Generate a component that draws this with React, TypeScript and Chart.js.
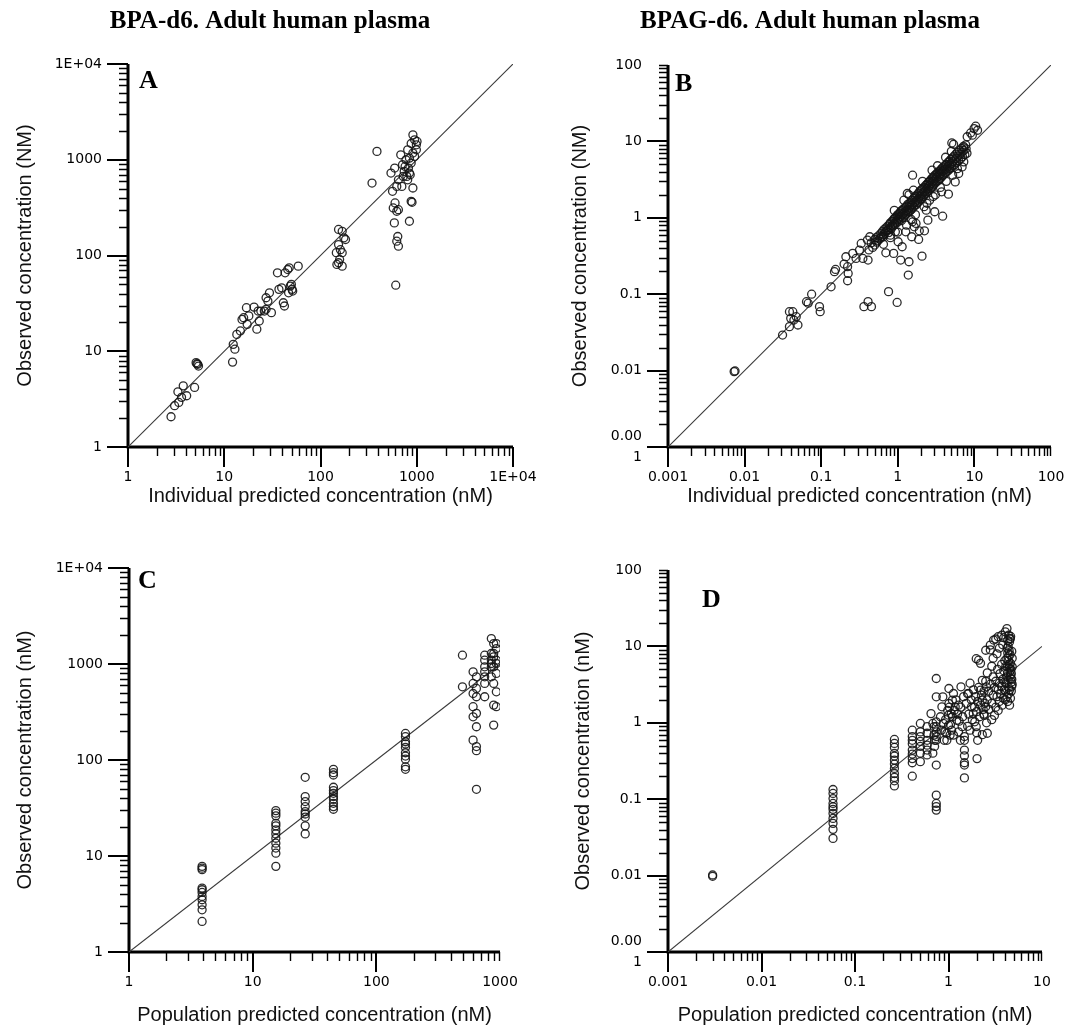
import React, { useEffect, useRef } from 'react';
import { Chart, registerables } from 'chart.js';

Chart.register(...registerables);

type Pt = [number, number];

// ---------- Panel A: BPA-d6, individual predicted vs observed ----------
const A_POINTS: Pt[] = [
  [2.8, 2.07], [3.05, 2.7], [3.37, 2.92], [3.3, 3.77], [3.75, 4.35], [4.07, 3.43], [3.6, 3.3], [4.92, 4.19],
  [5.1, 7.6], [5.3, 7.3], [5.4, 7.0], [5.2, 7.4],
  [12.2, 7.7], [12.4, 11.8], [12.9, 10.5], [13.5, 15], [14.7, 16.3], [15.3, 21.5], [15.9, 22.4], [17, 28.5],
  [17.3, 19.1], [18, 23.4], [20.4, 28.9], [21.8, 17], [23.1, 20.7], [22.5, 26.3], [24, 26.3], [26.1, 26.3],
  [27.2, 27.4], [28.4, 33.4], [27.2, 36.2], [29.5, 40.8], [30.9, 25.3],
  [35.7, 66], [37, 44.3], [39.5, 46], [41.1, 32.1], [42.2, 29.7], [42.9, 66], [45.7, 71.4], [47.3, 74.4],
  [48.5, 47.9], [46.6, 40.8], [50.6, 44.3], [49.8, 49.9], [51.4, 42.5], [58.7, 77.4],
  [154, 187], [168, 179], [175, 153], [182, 147], [154, 130], [161, 115], [146, 107], [168, 107], [158, 91],
  [148, 80.6], [168, 77.4], [154, 84],
  [386, 1222], [343, 571], [540, 726], [590, 819], [560, 468], [620, 527], [645, 617], [595, 354], [570, 314],
  [620, 290], [645, 301], [585, 219], [635, 158], [620, 141], [645, 125], [605, 49], [682, 1127], [711, 887],
  [724, 670], [700, 527], [741, 756], [773, 1000], [805, 1271], [839, 1040], [875, 1479], [912, 1820],
  [950, 1615], [991, 1432], [912, 1175], [875, 923], [839, 726], [805, 617], [912, 507], [875, 368], [893, 360],
  [839, 228], [950, 1084], [991, 1271], [1007, 1552], [820, 819], [757, 851], [789, 670], [855, 698],
];

// ---------- Panel B: BPAG-d6, individual predicted vs observed ----------
const B_POINTS: Pt[] = [
  [0.0073, 0.0097], [0.0075, 0.0099],
  [0.0313, 0.0292], [0.0385, 0.0376], [0.0385, 0.059], [0.0426, 0.059], [0.0472, 0.0508], [0.0497, 0.0395],
  [0.04, 0.0483], [0.044, 0.0459], [0.0643, 0.0798], [0.0676, 0.0762], [0.075, 0.1], [0.095, 0.0687],
  [0.097, 0.059], [0.1346, 0.125], [0.149, 0.197], [0.154, 0.211], [0.199, 0.248], [0.221, 0.229],
  [0.21, 0.309], [0.225, 0.187], [0.221, 0.15], [0.258, 0.342], [0.285, 0.294], [0.316, 0.378],
  [0.333, 0.462], [0.35, 0.294], [0.409, 0.28], [0.401, 0.511], [0.431, 0.565],
  [0.361, 0.0687], [0.409, 0.08], [0.453, 0.0687], [0.757, 0.108], [0.98, 0.078], [0.698, 0.348],
  [0.883, 0.342], [1.09, 0.28], [1.4, 0.266], [1.37, 0.178], [2.07, 0.315], [1.14, 0.418], [1.01, 0.486],
  [1.52, 0.565], [1.87, 0.521], [1.91, 0.676], [2.23, 0.676], [1.73, 0.843], [2.47, 0.932], [3.85, 1.05],
  [3.03, 1.2], [2.35, 1.26], [1.56, 0.887], [1.64, 0.762], [1.27, 0.656], [0.93, 0.656], [0.8, 0.593],
  [0.649, 0.565], [4.58, 2.04], [5.62, 2.95], [6.24, 3.8], [6.91, 4.64], [7.27, 5.4], [1.56, 3.61],
  [1.33, 2.08], [3.73, 2.19],
  [8.05, 11.5], [8.93, 12.9], [9.9, 14.7], [10.4, 15.8], [11, 14], [9.4, 12.05], [7.27, 8.3], [5.35, 9.18],
  [5.07, 9.55],
  [0.42, 0.38], [0.45, 0.47], [0.47, 0.41], [0.5, 0.52], [0.5, 0.44], [0.52, 0.55], [0.53, 0.48], [0.55, 0.5],
  [0.56, 0.58], [0.58, 0.53], [0.6, 0.62], [0.6, 0.55], [0.62, 0.57], [0.63, 0.66], [0.65, 0.6], [0.66, 0.7],
  [0.68, 0.63], [0.7, 0.74], [0.7, 0.66], [0.72, 0.68], [0.74, 0.78], [0.75, 0.7], [0.76, 0.64], [0.78, 0.82],
  [0.8, 0.75], [0.8, 0.86], [0.82, 0.72],
  [0.84, 0.9], [0.85, 0.8], [0.87, 0.78], [0.88, 0.95], [0.9, 0.85], [0.9, 0.98], [0.92, 0.82], [0.94, 1.02],
  [0.95, 0.9], [0.97, 0.86], [0.98, 1.06], [1.0, 0.95], [1.0, 1.1], [1.02, 0.9], [1.04, 1.0], [1.05, 1.14],
  [1.07, 0.96], [1.08, 1.2], [1.1, 1.05], [1.12, 0.92], [1.13, 1.25], [1.15, 1.1], [1.17, 1.0], [1.18, 1.3],
  [1.2, 1.15], [1.22, 1.05], [1.24, 1.36], [1.25, 1.2], [1.27, 1.1], [1.3, 1.42], [1.3, 1.25], [1.33, 1.15],
  [1.35, 1.5], [1.37, 1.3], [1.4, 1.2], [1.42, 1.55], [1.44, 1.38], [1.46, 1.25], [1.48, 1.62],
  [1.5, 1.45], [1.52, 1.3], [1.55, 1.7], [1.57, 1.5], [1.6, 1.38], [1.62, 1.8], [1.65, 1.58], [1.68, 1.45],
  [1.7, 1.9], [1.72, 1.65], [1.75, 1.5], [1.78, 2.0], [1.8, 1.72], [1.83, 1.58], [1.86, 2.1], [1.88, 1.8],
  [1.9, 1.65], [1.93, 2.2], [1.96, 1.9], [2.0, 1.75], [2.0, 2.3], [2.03, 2.0], [2.06, 1.8], [2.1, 2.4],
  [2.12, 2.1], [2.15, 1.9], [2.2, 2.5], [2.22, 2.2], [2.25, 2.0], [2.3, 2.65], [2.32, 2.3], [2.35, 2.1],
  [2.4, 2.75], [2.42, 2.4], [2.45, 2.2], [2.5, 2.9], [2.52, 2.55], [2.55, 2.3], [2.6, 3.0], [2.62, 2.65],
  [2.66, 2.4], [2.7, 3.15], [2.72, 2.8], [2.76, 2.5], [2.8, 3.3], [2.83, 2.95], [2.87, 2.6], [2.9, 3.4],
  [2.94, 3.05], [2.97, 2.75],
  [3.0, 3.55], [3.05, 3.2], [3.1, 2.85], [3.15, 3.7], [3.2, 3.35], [3.25, 3.0], [3.3, 3.9], [3.35, 3.5],
  [3.4, 3.1], [3.45, 4.05], [3.5, 3.65], [3.55, 3.25], [3.6, 4.2], [3.65, 3.8], [3.7, 3.4], [3.75, 4.4],
  [3.8, 4.0], [3.85, 3.55], [3.9, 4.6], [3.95, 4.15], [4.0, 3.7], [4.1, 4.8], [4.15, 4.3], [4.2, 3.9],
  [4.3, 5.0], [4.35, 4.5], [4.4, 4.05], [4.5, 5.3], [4.55, 4.7], [4.6, 4.2], [4.7, 5.5], [4.75, 4.9],
  [4.8, 4.4], [4.9, 5.8], [5.0, 5.1], [5.05, 4.6], [5.15, 6.1], [5.2, 5.4], [5.3, 4.8], [5.4, 6.4],
  [5.5, 5.7], [5.55, 5.0], [5.7, 6.8], [5.8, 6.0], [5.9, 5.3],
  [6.0, 7.2], [6.1, 6.4], [6.2, 5.6], [6.4, 7.6], [6.5, 6.8], [6.6, 5.9], [6.8, 8.1], [6.9, 7.2], [7.0, 6.3],
  [7.2, 8.6], [7.3, 7.6], [7.5, 6.7], [7.7, 9.0], [7.8, 8.0], [8.0, 7.0],
  [1.6, 2.3], [2.1, 3.0], [1.4, 2.0], [2.8, 4.2], [3.3, 4.8], [0.9, 1.25], [1.2, 1.7], [4.2, 6.2], [5.0, 7.4],
  [1.3, 0.8], [1.7, 1.1], [2.2, 1.4], [2.6, 1.7], [3.1, 2.0], [3.6, 2.5], [4.3, 3.0], [5.2, 3.6], [6.0, 4.4],
  [0.8, 0.55], [1.0, 0.65], [0.65, 0.45], [1.5, 0.95], [2.4, 1.55], [2.9, 1.9],
];

// ---------- Panel C: BPA-d6, population predicted vs observed ----------
const C_POINTS: Pt[] = [
  [3.9, 7.8], [3.9, 7.47], [3.9, 7.2], [3.9, 4.63], [3.9, 4.45], [3.9, 4.17], [3.9, 3.79], [3.9, 3.5], [3.9, 3.1],
  [3.9, 2.75], [3.9, 2.08],
  [15.4, 29.7], [15.4, 27.9], [15.4, 26.2], [15.4, 21.9], [15.4, 20.6], [15.4, 18.7], [15.4, 17], [15.4, 15.3],
  [15.4, 13.6], [15.4, 12.1], [15.4, 10.7], [15.4, 7.8],
  [26.6, 66], [26.6, 41.6], [26.6, 36.9], [26.6, 32.7], [26.6, 29], [26.6, 27.4], [26.6, 25.4], [26.6, 20.6],
  [26.6, 17],
  [45, 80], [45, 73.8], [45, 69.8], [45, 52], [45, 48], [45, 45], [45, 41.6], [45, 39], [45, 35.4], [45, 32.7],
  [45, 30.7],
  [172, 189], [172, 175], [172, 155], [172, 147], [172, 135], [172, 119], [172, 110], [172, 102], [172, 85],
  [172, 80],
  [497, 1236], [497, 579],
  [606, 829], [645, 736], [606, 627], [645, 556], [606, 493], [645, 456], [606, 359], [645, 306], [606, 282],
  [645, 222], [606, 161], [645, 138], [645, 125], [645, 49.5],
  [752, 1236], [752, 1096], [752, 935], [752, 829], [752, 736], [752, 627], [752, 456],
  [851, 1841], [889, 1632], [934, 1449], [851, 1286], [889, 1186], [934, 1096], [851, 1012], [889, 935],
  [934, 797], [851, 736], [889, 627], [934, 513], [889, 373], [934, 359], [889, 231], [934, 1632], [851, 1096],
  [934, 1012], [889, 1286], [851, 935],
];

// ---------- Panel D: BPAG-d6, population predicted vs observed ----------
const D_POINTS: Pt[] = [
  [0.003, 0.0102], [0.003, 0.0098],
  [0.0582, 0.134], [0.0582, 0.119], [0.0582, 0.102], [0.0582, 0.088], [0.0582, 0.0796], [0.0582, 0.0736],
  [0.0582, 0.0652], [0.0582, 0.0561], [0.0582, 0.0483], [0.0582, 0.0403], [0.0582, 0.0307],
  [0.264, 0.605], [0.264, 0.537], [0.264, 0.476], [0.264, 0.397], [0.264, 0.367], [0.264, 0.325], [0.264, 0.288],
  [0.264, 0.253], [0.264, 0.217], [0.264, 0.193], [0.264, 0.174], [0.264, 0.149],
  [0.41, 0.8], [0.41, 0.66], [0.41, 0.59], [0.41, 0.53], [0.41, 0.44], [0.41, 0.39], [0.41, 0.34], [0.41, 0.3],
  [0.41, 0.2],
  [0.5, 0.98], [0.5, 0.76], [0.5, 0.66], [0.5, 0.57], [0.5, 0.49], [0.5, 0.4], [0.5, 0.31],
  [0.59, 0.89], [0.59, 0.73], [0.59, 0.59], [0.59, 0.51], [0.59, 0.44], [0.59, 0.38],
  [0.65, 1.32], [0.68, 0.98], [0.7, 0.69], [0.71, 0.59], [0.68, 0.4], [0.7, 0.89], [0.71, 0.49],
  [0.74, 3.8], [0.74, 2.19], [0.74, 1.03], [0.74, 0.89], [0.74, 0.76], [0.74, 0.66], [0.74, 0.59], [0.74, 0.28],
  [0.74, 0.113], [0.74, 0.088], [0.74, 0.08], [0.74, 0.072],
  [0.82, 1.2], [0.85, 1.62], [0.88, 0.98], [0.92, 0.76], [0.96, 0.59], [1.0, 1.26], [1.01, 1.79], [1.0, 0.93],
  [0.96, 0.73], [0.9, 0.59], [0.87, 2.19], [1.01, 2.81], [1.04, 0.69], [0.84, 0.8], [0.93, 1.1], [0.98, 1.45],
  [1.48, 0.66], [1.48, 0.59], [1.48, 0.44], [1.48, 0.37], [1.48, 0.3], [1.48, 0.28], [1.48, 0.19],
  [1.07, 1.32], [1.1, 1.98], [1.13, 2.42], [1.18, 1.62], [1.23, 1.08], [1.28, 0.76], [1.34, 0.59], [1.4, 0.89],
  [1.36, 2.96], [1.28, 1.7], [1.13, 0.69], [1.1, 1.2], [1.05, 0.95], [1.15, 1.45], [1.2, 2.0], [1.25, 1.3],
  [1.3, 1.05], [1.35, 1.6], [1.42, 1.2], [1.45, 2.2], [1.02, 1.6], [1.08, 0.8],
  [1.55, 1.8], [1.6, 2.4], [1.65, 1.3], [1.7, 3.3], [1.75, 2.0], [1.8, 1.1], [1.85, 2.7], [1.9, 1.6],
  [1.95, 2.2], [2.0, 0.74], [2.0, 1.4], [2.02, 0.34], [2.05, 0.59], [2.05, 1.9], [2.1, 2.9], [2.15, 1.2],
  [2.2, 2.67], [2.2, 1.7], [2.25, 2.3], [2.3, 1.98], [2.3, 3.6], [2.35, 1.5], [2.4, 1.26], [2.4, 2.6],
  [2.45, 1.8], [2.5, 1.62], [2.55, 2.96], [2.6, 0.73], [1.64, 2.42], [1.76, 1.62], [1.84, 1.32], [1.91, 1.03],
  [1.98, 0.89], [2.1, 6.6], [1.6, 0.9], [1.7, 0.8],
  [2.6, 2.0], [2.7, 2.6], [2.8, 3.2], [2.9, 1.8], [3.0, 2.3], [3.0, 4.0], [3.1, 2.9], [3.2, 1.6], [3.2, 3.5],
  [3.3, 2.2], [3.35, 5.0], [3.4, 2.7], [3.5, 1.9], [3.5, 3.3], [3.55, 4.4], [3.6, 2.4], [3.7, 3.0], [3.7, 5.8],
  [3.75, 1.7], [3.8, 3.7], [3.85, 2.1], [3.9, 4.8], [3.95, 2.7], [4.0, 3.4], [4.0, 6.5], [4.05, 2.0],
  [4.1, 5.5], [2.5, 3.5], [2.6, 4.5], [2.9, 5.5], [3.0, 7.0], [3.3, 8.0], [3.5, 9.5], [3.8, 10.5], [2.4, 1.3],
  [2.7, 1.5], [3.1, 1.25], [3.4, 1.45], [2.55, 1.0], [2.3, 0.7], [2.9, 1.1],
  [4.25, 9.5], [4.3, 8.2], [4.35, 7.3], [4.4, 6.5], [4.45, 5.8], [4.5, 5.2], [4.55, 4.7], [4.6, 4.2],
  [4.65, 3.8], [4.7, 3.4], [4.75, 3.0], [4.5, 2.7], [4.4, 2.4], [4.6, 2.1], [4.3, 1.9], [4.5, 1.7], [4.2, 6.9],
  [4.25, 5.5], [4.3, 4.5], [4.35, 3.6], [4.4, 2.9], [4.45, 8.8], [4.55, 7.8], [4.6, 6.0], [4.65, 5.0],
  [4.7, 4.4], [4.75, 3.7], [4.8, 3.2], [4.7, 2.6], [4.8, 5.4], [4.8, 7.0], [4.75, 8.6], [4.2, 4.0], [4.15, 3.3],
  [4.1, 2.6], [4.22, 2.2], [4.35, 10.0], [4.5, 11.5], [4.55, 12.5], [4.62, 13.5], [4.3, 12.0],
  [4.22, 17.1], [4.05, 15.5], [4.4, 14.0], [4.58, 12.7], [3.7, 14.0], [3.4, 13.4], [3.04, 12.1], [2.8, 10.4],
  [2.5, 8.9], [1.98, 6.9], [2.2, 6.0], [2.8, 9.0], [3.2, 12.5], [3.9, 13.0],
];

// ---------- tick values and labels ----------
const A_X_TICKS = [1, 10, 100, 1000, 10000];
const A_X_LABELS = ['1', '10', '100', '1000', '1E+04'];
const A_Y_TICKS = [1, 10, 100, 1000, 10000];
const A_Y_LABELS = ['1', '10', '100', '1000', '1E+04'];
const B_X_TICKS = [0.001, 0.01, 0.1, 1, 10, 100];
const B_X_LABELS = ['0.001', '0.01', '0.1', '1', '10', '100'];
const B_Y_TICKS = [0.001, 0.01, 0.1, 1, 10, 100];
const B_Y_LABELS: (string | string[])[] = [['0.00', '1'], '0.01', '0.1', '1', '10', '100'];
const C_X_TICKS = [1, 10, 100, 1000];
const C_X_LABELS = ['1', '10', '100', '1000'];
const C_Y_TICKS = [1, 10, 100, 1000, 10000];
const C_Y_LABELS = ['1', '10', '100', '1000', '1E+04'];
const D_X_TICKS = [0.001, 0.01, 0.1, 1, 10];
const D_X_LABELS = ['0.001', '0.01', '0.1', '1', '10'];
const D_Y_TICKS = [0.001, 0.01, 0.1, 1, 10, 100];
const D_Y_LABELS: (string | string[])[] = [['0.00', '1'], '0.01', '0.1', '1', '10', '100'];

type Panel = {
  key: string;
  left: number; top: number; width: number; height: number;
  area: { l: number; t: number; r: number; b: number };
  xMin: number; xMax: number; yMin: number; yMax: number; lineMax: number;
  xTicks: number[]; xLabels: (string | string[])[];
  yTicks: number[]; yLabels: (string | string[])[];
  points: Pt[];
  letter: string; letterX: number; letterY: number;
  title?: string; titleX?: number; titleY?: number;
  xTitle: string; xTitleY: number;
  yTitle: string; yTitleX: number;
  skipTopMajor: boolean; skipRightMajor: boolean;
  yLineHeight: number;
};

const PANELS: Panel[] = [
  {
    key: 'A', left: 0, top: 0, width: 540, height: 517,
    area: { l: 128, t: 64, r: 513, b: 447 },
    xMin: 1, xMax: 10000, yMin: 1, yMax: 10000, lineMax: 10000,
    xTicks: A_X_TICKS, xLabels: A_X_LABELS, yTicks: A_Y_TICKS, yLabels: A_Y_LABELS,
    points: A_POINTS,
    letter: 'A', letterX: 139, letterY: 88,
    title: 'BPA-d6. Adult human plasma', titleX: 270, titleY: 28,
    xTitle: 'Individual predicted concentration (nM)', xTitleY: 496,
    yTitle: 'Observed concentration (NM)', yTitleX: 25,
    skipTopMajor: false, skipRightMajor: false, yLineHeight: 1.2,
  },
  {
    key: 'B', left: 540, top: 0, width: 539, height: 517,
    area: { l: 128, t: 65, r: 511, b: 447 },
    xMin: 0.001, xMax: 100, yMin: 0.001, yMax: 100, lineMax: 100,
    xTicks: B_X_TICKS, xLabels: B_X_LABELS, yTicks: B_Y_TICKS, yLabels: B_Y_LABELS,
    points: B_POINTS,
    letter: 'B', letterX: 135, letterY: 91,
    title: 'BPAG-d6. Adult human plasma', titleX: 270, titleY: 28,
    xTitle: 'Individual predicted concentration (nM)', xTitleY: 496,
    yTitle: 'Observed concentration (NM)', yTitleX: 40,
    skipTopMajor: true, skipRightMajor: true, yLineHeight: 1.45,
  },
  {
    key: 'C', left: 0, top: 517, width: 540, height: 517,
    area: { l: 129, t: 51, r: 500, b: 435 },
    xMin: 1, xMax: 1000, yMin: 1, yMax: 10000, lineMax: 1000,
    xTicks: C_X_TICKS, xLabels: C_X_LABELS, yTicks: C_Y_TICKS, yLabels: C_Y_LABELS,
    points: C_POINTS,
    letter: 'C', letterX: 138, letterY: 71,
    xTitle: 'Population predicted concentration (nM)', xTitleY: 498,
    yTitle: 'Observed concentration (nM)', yTitleX: 25,
    skipTopMajor: false, skipRightMajor: true, yLineHeight: 1.2,
  },
  {
    key: 'D', left: 540, top: 517, width: 539, height: 517,
    area: { l: 128, t: 53, r: 502, b: 435 },
    xMin: 0.001, xMax: 10, yMin: 0.001, yMax: 100, lineMax: 10,
    xTicks: D_X_TICKS, xLabels: D_X_LABELS, yTicks: D_Y_TICKS, yLabels: D_Y_LABELS,
    points: D_POINTS,
    letter: 'D', letterX: 162, letterY: 90,
    xTitle: 'Population predicted concentration (nM)', xTitleY: 498,
    yTitle: 'Observed concentration (nM)', yTitleX: 43,
    skipTopMajor: true, skipRightMajor: true, yLineHeight: 1.45,
  },
];

function decorPlugin(p: Panel) {
  return {
    id: 'decor' + p.key,
    beforeDatasetsDraw(chart: any) {
      const { ctx, chartArea: ca, scales } = chart;
      const xs = scales.x;
      const ys = scales.y;
      ctx.save();
      ctx.strokeStyle = '#000';
      ctx.lineCap = 'butt';
      // minor ticks
      ctx.lineWidth = 1.4;
      ctx.beginPath();
      const ex0 = Math.round(Math.log10(p.xMin));
      const ex1 = Math.round(Math.log10(p.xMax));
      for (let e = ex0; e < ex1; e++) {
        const d = Math.pow(10, e);
        for (let k = 2; k <= 9; k++) {
          const px = Math.round(xs.getPixelForValue(k * d)) + 0.5;
          ctx.moveTo(px, ca.bottom);
          ctx.lineTo(px, ca.bottom + 9);
        }
      }
      const ey0 = Math.round(Math.log10(p.yMin));
      const ey1 = Math.round(Math.log10(p.yMax));
      for (let e = ey0; e < ey1; e++) {
        const d = Math.pow(10, e);
        for (let k = 2; k <= 9; k++) {
          const py = Math.round(ys.getPixelForValue(k * d)) + 0.5;
          ctx.moveTo(ca.left, py);
          ctx.lineTo(ca.left - 9, py);
        }
      }
      if (p.skipRightMajor) {
        const px = Math.round(xs.getPixelForValue(p.xMax)) - 0.5;
        ctx.moveTo(px, ca.bottom);
        ctx.lineTo(px, ca.bottom + 9);
      }
      if (p.skipTopMajor) {
        const py = Math.round(ys.getPixelForValue(p.yMax)) + 0.5;
        ctx.moveTo(ca.left, py);
        ctx.lineTo(ca.left - 9, py);
      }
      ctx.stroke();
      // major ticks
      ctx.lineWidth = 2;
      ctx.beginPath();
      p.xTicks.forEach((v) => {
        if (p.skipRightMajor && v === p.xMax) return;
        const px = Math.round(xs.getPixelForValue(v));
        ctx.moveTo(px, ca.bottom);
        ctx.lineTo(px, ca.bottom + 20);
      });
      p.yTicks.forEach((v) => {
        if (p.skipTopMajor && v === p.yMax) return;
        const py = Math.round(ys.getPixelForValue(v));
        ctx.moveTo(ca.left, py);
        ctx.lineTo(ca.left - 21, py);
      });
      ctx.stroke();
      // axis lines
      ctx.lineWidth = 3;
      ctx.beginPath();
      ctx.moveTo(ca.left, ca.top);
      ctx.lineTo(ca.left, ca.bottom + 1.5);
      ctx.moveTo(ca.left - 1.5, ca.bottom);
      ctx.lineTo(ca.right, ca.bottom);
      ctx.stroke();
      ctx.restore();
    },
    afterDraw(chart: any) {
      const { ctx, chartArea: ca } = chart;
      ctx.save();
      ctx.fillStyle = '#000';
      if (p.title) {
        ctx.font = 'bold 25px "Liberation Serif"';
        ctx.textAlign = 'center';
        ctx.textBaseline = 'alphabetic';
        ctx.fillText(p.title, p.titleX, p.titleY);
      }
      ctx.font = 'bold 26px "Liberation Serif"';
      ctx.textAlign = 'left';
      ctx.textBaseline = 'alphabetic';
      ctx.fillText(p.letter, p.letterX, p.letterY);
      ctx.font = '20px "Liberation Sans"';
      ctx.fillStyle = '#111';
      ctx.textAlign = 'center';
      ctx.textBaseline = 'middle';
      ctx.fillText(p.xTitle, (ca.left + ca.right) / 2, p.xTitleY);
      ctx.translate(p.yTitleX, (ca.top + ca.bottom) / 2);
      ctx.rotate(-Math.PI / 2);
      ctx.fillText(p.yTitle, 0, 0);
      ctx.restore();
    },
  };
}

function PanelChart({ p }: { p: Panel }) {
  const ref = useRef<HTMLCanvasElement | null>(null);
  useEffect(() => {
    if (!ref.current) return;
    const tickFont = { family: 'DejaVu Sans', size: 14 };
    const chart = new Chart(ref.current, {
      type: 'scatter',
      data: {
        datasets: [
          {
            label: 'identity',
            data: [{ x: p.xMin, y: p.xMin }, { x: p.lineMax, y: p.lineMax }],
            showLine: true,
            borderColor: '#3a3a3a',
            borderWidth: 1.1,
            pointRadius: 0,
            order: 2,
          } as any,
          {
            label: 'observed',
            data: p.points.map(([x, y]) => ({ x, y })),
            pointRadius: 4,
            pointStyle: 'circle',
            borderColor: 'rgba(20,20,20,0.9)',
            backgroundColor: 'rgba(0,0,0,0)',
            borderWidth: 1.3,
            order: 1,
          } as any,
        ],
      },
      options: {
        responsive: false,
        maintainAspectRatio: false,
        animation: false,
        devicePixelRatio: 1,
        events: [],
        layout: { padding: { top: p.area.t, right: p.width - p.area.r, bottom: 0, left: 0 } },
        plugins: { legend: { display: false }, tooltip: { enabled: false }, title: { display: false } },
        scales: {
          x: {
            type: 'logarithmic',
            position: 'bottom',
            min: p.xMin,
            max: p.xMax,
            grid: { display: false, drawTicks: false },
            border: { display: false },
            afterBuildTicks: (s: any) => { s.ticks = p.xTicks.map((v) => ({ value: v })); },
            afterFit: (s: any) => {
              s.height = p.height - p.area.b;
              s.paddingLeft = 0; s.paddingRight = 0; s.paddingTop = 0; s.paddingBottom = 0;
            },
            ticks: {
              autoSkip: false, maxRotation: 0, minRotation: 0, padding: 22,
              font: tickFont, color: '#000',
              callback: (_v: any, i: number) => p.xLabels[i],
            },
          },
          y: {
            type: 'logarithmic',
            position: 'left',
            min: p.yMin,
            max: p.yMax,
            grid: { display: false, drawTicks: false },
            border: { display: false },
            afterBuildTicks: (s: any) => { s.ticks = p.yTicks.map((v) => ({ value: v })); },
            afterFit: (s: any) => {
              s.width = p.area.l;
              s.paddingLeft = 0; s.paddingRight = 0; s.paddingTop = 0; s.paddingBottom = 0;
            },
            ticks: {
              autoSkip: false, padding: 26,
              font: { ...tickFont, lineHeight: p.yLineHeight }, color: '#000',
              callback: (_v: any, i: number) => p.yLabels[i],
            },
          },
        },
      } as any,
      plugins: [decorPlugin(p)],
    });
    return () => chart.destroy();
  }, [p]);
  return (
    <canvas
      ref={ref}
      width={p.width}
      height={p.height}
      style={{ position: 'absolute', left: p.left, top: p.top, width: p.width, height: p.height }}
    />
  );
}

export default function App() {
  return (
    <div style={{ position: 'absolute', left: 0, top: 0, width: 1079, height: 1034, background: '#fff' }}>
      {PANELS.map((p) => (
        <PanelChart key={p.key} p={p} />
      ))}
    </div>
  );
}
